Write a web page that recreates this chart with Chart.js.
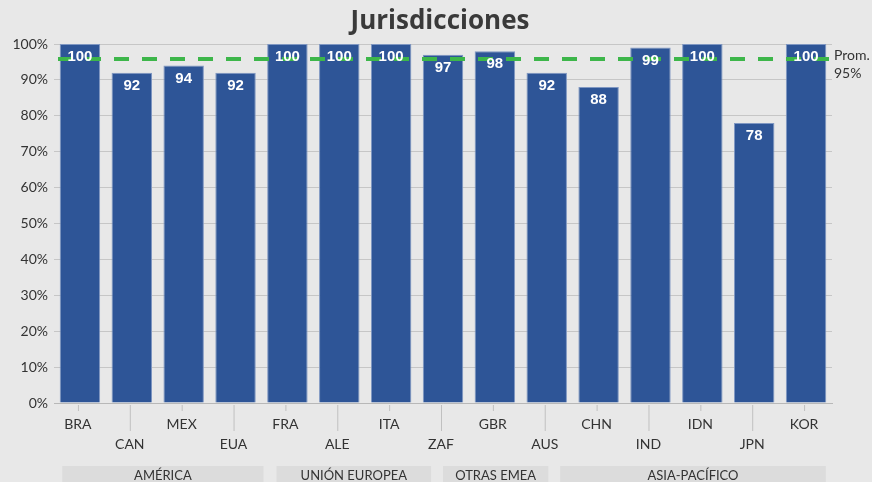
<!DOCTYPE html>
<html>
<head>
<meta charset="utf-8">
<script src="https://cdn.jsdelivr.net/npm/chart.js@4/dist/chart.umd.min.js"></script>
<style>
  html, body { margin: 0; padding: 0; background: #e8e8e8; }
  #wrap { width: 872px; height: 482px; position: relative; }
</style>
</head>
<body>
<div id="wrap"><canvas id="chart"></canvas></div>
<script>
// Data
const countries = ['BRA', 'CAN', 'MEX', 'EUA', 'FRA', 'ALE', 'ITA', 'ZAF', 'GBR', 'AUS', 'CHN', 'IND', 'IDN', 'JPN', 'KOR'];
const scores    = [100, 92, 94, 92, 100, 100, 100, 97, 98, 92, 88, 99, 100, 78, 100];
const yTicks    = [0, 10, 20, 30, 40, 50, 60, 70, 80, 90, 100];
const groupNames = ['AMÉRICA', 'UNIÓN EUROPEA', 'OTRAS EMEA', 'ASIA-PACÍFICO'];
// group box extents, in category units (as drawn in the reference)
const groupFrom = [-0.34, 3.79, 7.0, 9.26];
const groupTo   = [3.54, 6.77, 9.03, 14.38];
const averageValue = 95.8;
const averageLabel = ['Prom.', '95%'];

const BAR = '#2e5597';
const GREEN = '#3db64a';
const TEXT = '#333333';
const FONT = 'Lato, "Open Sans", sans-serif';

// Title, average line, staggered x labels, group boxes, value labels
const decorPlugin = {
  id: 'decor',
  afterDatasetsDraw(chart) {
    const ctx = chart.ctx;
    const x = chart.scales.x, y = chart.scales.y;
    const yAvg = y.getPixelForValue(averageValue);
    ctx.save();
    ctx.strokeStyle = GREEN;
    ctx.lineWidth = 4;
    ctx.setLineDash([15, 13]);
    ctx.beginPath();
    ctx.moveTo(x.left + 4, yAvg);
    ctx.lineTo(x.right - 2, yAvg);
    ctx.stroke();
    ctx.setLineDash([]);

    // value labels
    ctx.fillStyle = '#ffffff';
    ctx.font = 'bold 15px "Liberation Sans", Arial, sans-serif';
    ctx.textAlign = 'center';
    ctx.textBaseline = 'middle';
    const meta = chart.getDatasetMeta(0);
    meta.data.forEach((bar, i) => {
      ctx.fillText(String(scores[i]), bar.x, bar.y + 13);
    });

    // average label
    ctx.fillStyle = TEXT;
    ctx.font = '14px ' + FONT;
    ctx.textAlign = 'left';
    ctx.fillText(averageLabel[0], x.right + 2, yAvg - 4);
    ctx.fillText(averageLabel[1], x.right + 2, yAvg + 14);
    ctx.restore();
  },
  afterDraw(chart) {
    const ctx = chart.ctx;
    const x = chart.scales.x, y = chart.scales.y;
    ctx.save();

    // title
    ctx.fillStyle = '#3a3a3a';
    ctx.font = 'bold 26px "Open Sans", sans-serif';
    ctx.textAlign = 'center';
    ctx.textBaseline = 'middle';
    ctx.fillText('Jurisdicciones', chart.width / 2 + 4, 22);

    // staggered category labels with leader ticks
    ctx.font = '14px ' + FONT;
    ctx.strokeStyle = '#c0c0c0';
    ctx.lineWidth = 1;
    countries.forEach((c, i) => {
      const px = x.getPixelForValue(i) - 2;
      const low = i % 2 === 1;
      ctx.beginPath();
      ctx.moveTo(px + 0.5, y.bottom + 2);
      ctx.lineTo(px + 0.5, y.bottom + (low ? 28 : 8));
      ctx.stroke();
      ctx.fillStyle = TEXT;
      ctx.fillText(c, px, y.bottom + (low ? 41 : 21));
    });

    // group boxes
    groupNames.forEach((g, k) => {
      const left = x.getPixelForValue(groupFrom[k]);
      const right = x.getPixelForValue(groupTo[k]);
      ctx.fillStyle = '#dcdcdc';
      ctx.fillRect(left, 466, right - left, 20);
      ctx.fillStyle = TEXT;
      ctx.font = '13px ' + FONT;
      ctx.fillText(g, (left + right) / 2, 476);
    });
    ctx.restore();
  }
};

new Chart(document.getElementById('chart'), {
  type: 'bar',
  data: {
    labels: countries,
    datasets: [{
      data: scores,
      backgroundColor: BAR,
      borderColor: '#7f97c2',
      borderWidth: 1,
      barPercentage: 0.78,
      categoryPercentage: 1.0
    }]
  },
  options: {
    responsive: true,
    maintainAspectRatio: false,
    animation: false,
    layout: { padding: { top: 44, right: 40, left: 0, bottom: 0 } },
    plugins: {
      legend: { display: false },
      tooltip: { enabled: false }
    },
    scales: {
      x: {
        grid: { display: false },
        border: { display: true, color: '#b8b8b8', width: 1 },
        ticks: { display: false },
        afterFit(scale) { scale.height = 79; }
      },
      y: {
        min: 0,
        max: 100,
        afterBuildTicks(scale) { scale.ticks = yTicks.map(v => ({ value: v })); },
        ticks: {
          color: TEXT,
          font: { family: FONT, size: 14 },
          padding: 6,
          callback: v => v + '%'
        },
        grid: { color: '#c6c6c6', drawTicks: false },
        border: { display: false },
        afterFit(scale) { scale.width = 54; }
      }
    }
  },
  plugins: [decorPlugin]
});
</script>
</body>
</html>
